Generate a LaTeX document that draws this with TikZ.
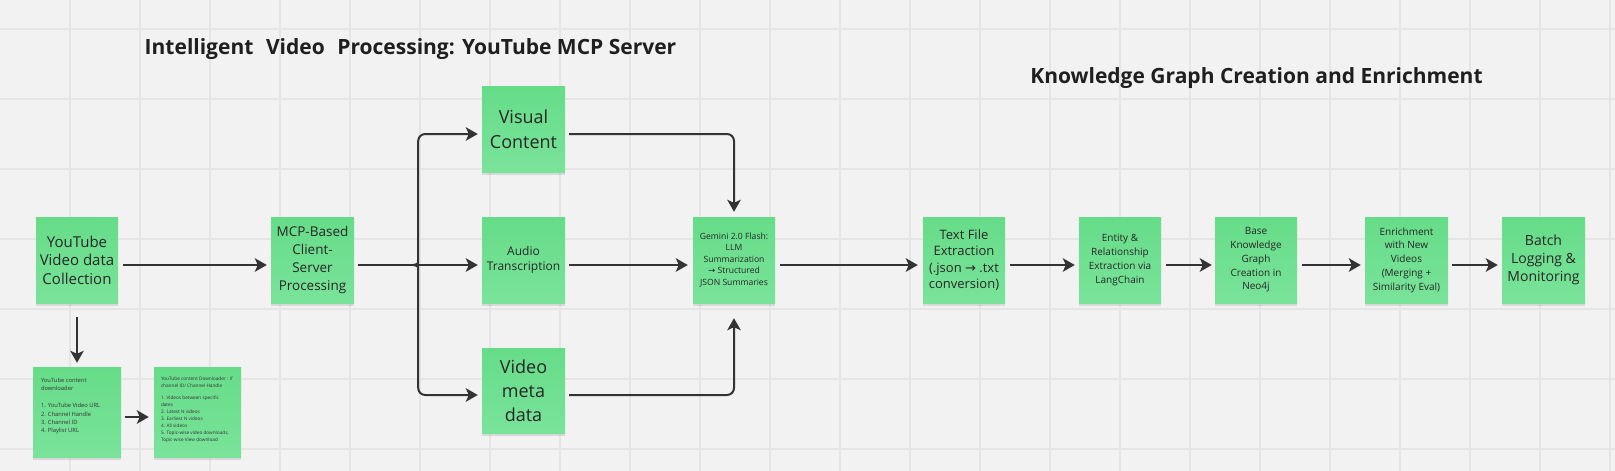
\documentclass[tikz,border=0pt]{standalone}
\usepackage{fontspec}
\setmainfont{Open Sans}
\newfontfamily\symfont{DejaVu Sans}
\usetikzlibrary{arrows.meta,shadows,calc}
\definecolor{bg}{HTML}{F2F2F2}
\definecolor{gridc}{HTML}{E5E5E5}
\definecolor{ink}{HTML}{333333}
\definecolor{gtop}{HTML}{66DC88}
\definecolor{gbot}{HTML}{79E39A}
\newcommand\setfs[2]{\fontsize{#1}{#2}\selectfont}
\tikzset{
  sticky/.style={rectangle, inner sep=0pt, align=center, text=black!85,
    top color=gtop, bottom color=gbot, draw=none,
    drop shadow={shadow xshift=0pt, shadow yshift=-3pt, opacity=0.10, fill=black}},
  mainbox/.style={sticky, minimum width=82pt, minimum height=86pt},
  arr/.style={draw=ink, line width=2pt, -{Stealth[length=12pt,width=13.5pt,inset=3pt]}},
  notetext/.style={anchor=north west, inner sep=0pt, align=left, text=black!80},
  titletext/.style={font=\bfseries\setfs{21}{25}, text=black!88, inner sep=0pt},
}
\begin{document}
\begin{tikzpicture}[x=1pt,y=-1pt]
\fill[bg] (0,0) rectangle (1615,471);
\useasboundingbox (0,0) rectangle (1615,471);
% grid
\foreach \gx in {70,140,...,1610} \draw[gridc, line width=1.2pt] (\gx,0) -- (\gx,471);
\foreach \gy in {29,99,...,449} \draw[gridc, line width=1.2pt] (0,\gy) -- (1615,\gy);

% titles
\node[titletext] (t1) at (410.5,49) {Intelligent\hspace{0.6em}Video\hspace{0.6em}Processing: YouTube MCP Server};
\node[titletext] (t2) at (1256.5,78) {Knowledge Graph Creation and Enrichment};

% main nodes
\node[mainbox, font=\setfs{15}{18.5}] (yt) at (77,260) {YouTube\\Video data\\Collection};
\node[mainbox, minimum width=83pt, font=\setfs{13.5}{17.7}] (mcp) at (312.5,260) {MCP-Based\\Client-\\Server\\Processing};
\node[mainbox, minimum width=83pt, font=\setfs{18}{25}] (vis) at (523.5,129) {Visual\\Content};
\node[mainbox, minimum width=83pt, font=\setfs{12}{15}] (aud) at (523.5,260) {Audio\\Transcription};
\node[mainbox, minimum width=83pt, minimum height=85pt, font=\setfs{18}{24}] (meta) at (523.5,390.5) {Video\\meta\\data};
\node[mainbox, font=\setfs{8.6}{11.5}] (gem) at (734,260) {Gemini 2.0 Flash:\\LLM\\Summarization\\{\symfont →} Structured\\JSON Summaries};
\node[mainbox, font=\setfs{13}{16.3}] (txt) at (964,260) {Text File\\Extraction\\(.json {\symfont →} .txt\\conversion)};
\node[mainbox, font=\setfs{10}{13.8}] (ent) at (1120,260) {Entity \&\\Relationship\\Extraction via\\LangChain};
\node[mainbox, font=\setfs{10}{13.8}] (base) at (1256,260) {Base\\Knowledge\\Graph\\Creation in\\Neo4j};
\node[mainbox, minimum width=83pt, font=\setfs{10}{13.8}] (enr) at (1406.5,260) {Enrichment\\with New\\Videos\\(Merging +\\Similarity Eval)};
\node[mainbox, minimum width=83pt, font=\setfs{14}{17.8}] (bat) at (1543.5,260) {Batch\\Logging \&\\Monitoring};

% small notes
\node[sticky, minimum width=88pt, minimum height=90pt] (n1) at (77,412) {};
\node[notetext, font=\setfs{5.8}{8.4}] (n1t) at ([xshift=8pt,yshift=-11pt]n1.north west)
  {YouTube content\\downloader\\[8.4pt]1. YouTube Video URL\\2. Channel Handle\\3. Channel ID\\4. Playlist URL};
\node[sticky, minimum width=87pt, minimum height=90pt] (n2) at (197.5,412) {};
\node[notetext, font=\setfs{4.7}{6.9}] (n2t) at ([xshift=7pt,yshift=-9.5pt]n2.north west)
  {YouTube content Downloader : if\\channel ID/ Channel Handle\\[6pt]1. Videos between specific\\dates\\2. Latest N videos\\3. Earliest N videos\\4. All videos\\5. Topic-wise video downloads,\\Topic-wise View download};

% connectors
\draw[arr, shorten <=5pt, shorten >=4pt] ([yshift=-5pt]yt.east) -- ([yshift=-5pt]mcp.west);
\draw[arr, shorten <=4pt, shorten >=4pt] ([yshift=-5pt]mcp.east) -- ([yshift=-5pt]aud.west);
\coordinate (br) at ([xshift=59pt,yshift=-5pt]mcp.east);
\draw[arr, rounded corners=7pt, shorten >=4pt] (br) .. controls ($(br)+(4,0)$) and ($(br)+(5,-3)$) .. ($(br)+(5,-9)$) -- ($(br)+(5,-131)$) -- ([yshift=-5pt]vis.west);
\draw[arr, rounded corners=7pt, shorten >=4pt] (br) .. controls ($(br)+(4,0)$) and ($(br)+(5,3)$) .. ($(br)+(5,9)$) -- ($(br)+(5,130)$) -- ([yshift=-4.5pt]meta.west);

\draw[arr, rounded corners=7pt, shorten <=4pt, shorten >=5pt] ([yshift=-5pt]vis.east) -| (gem.north);
\draw[arr, shorten <=4pt, shorten >=5pt] ([yshift=-5pt]aud.east) -- ([yshift=-5pt]gem.west);
\draw[arr, rounded corners=7pt, shorten <=4pt, shorten >=15pt] ([yshift=-4.5pt]meta.east) -| (gem.south);

\draw[arr, shorten <=5pt, shorten >=5pt] ([yshift=-5pt]gem.east) -- ([yshift=-5pt]txt.west);
\draw[arr, shorten <=5pt, shorten >=4pt] ([yshift=-5pt]txt.east) -- ([yshift=-5pt]ent.west);
\draw[arr, shorten <=5pt, shorten >=3pt] ([yshift=-5pt]ent.east) -- ([yshift=-5pt]base.west);
\draw[arr, shorten <=5pt, shorten >=4pt] ([yshift=-5pt]base.east) -- ([yshift=-5pt]enr.west);
\draw[arr, shorten <=4pt, shorten >=4pt] ([yshift=-5pt]enr.east) -- ([yshift=-5pt]bat.west);

\draw[arr, shorten <=14pt, shorten >=4pt] (yt.south) -- (n1.north);
\draw[arr, shorten <=4pt, shorten >=5pt] ([yshift=-5pt]n1.east) -- ([yshift=-5pt]n2.west);
\end{tikzpicture}
\end{document}
